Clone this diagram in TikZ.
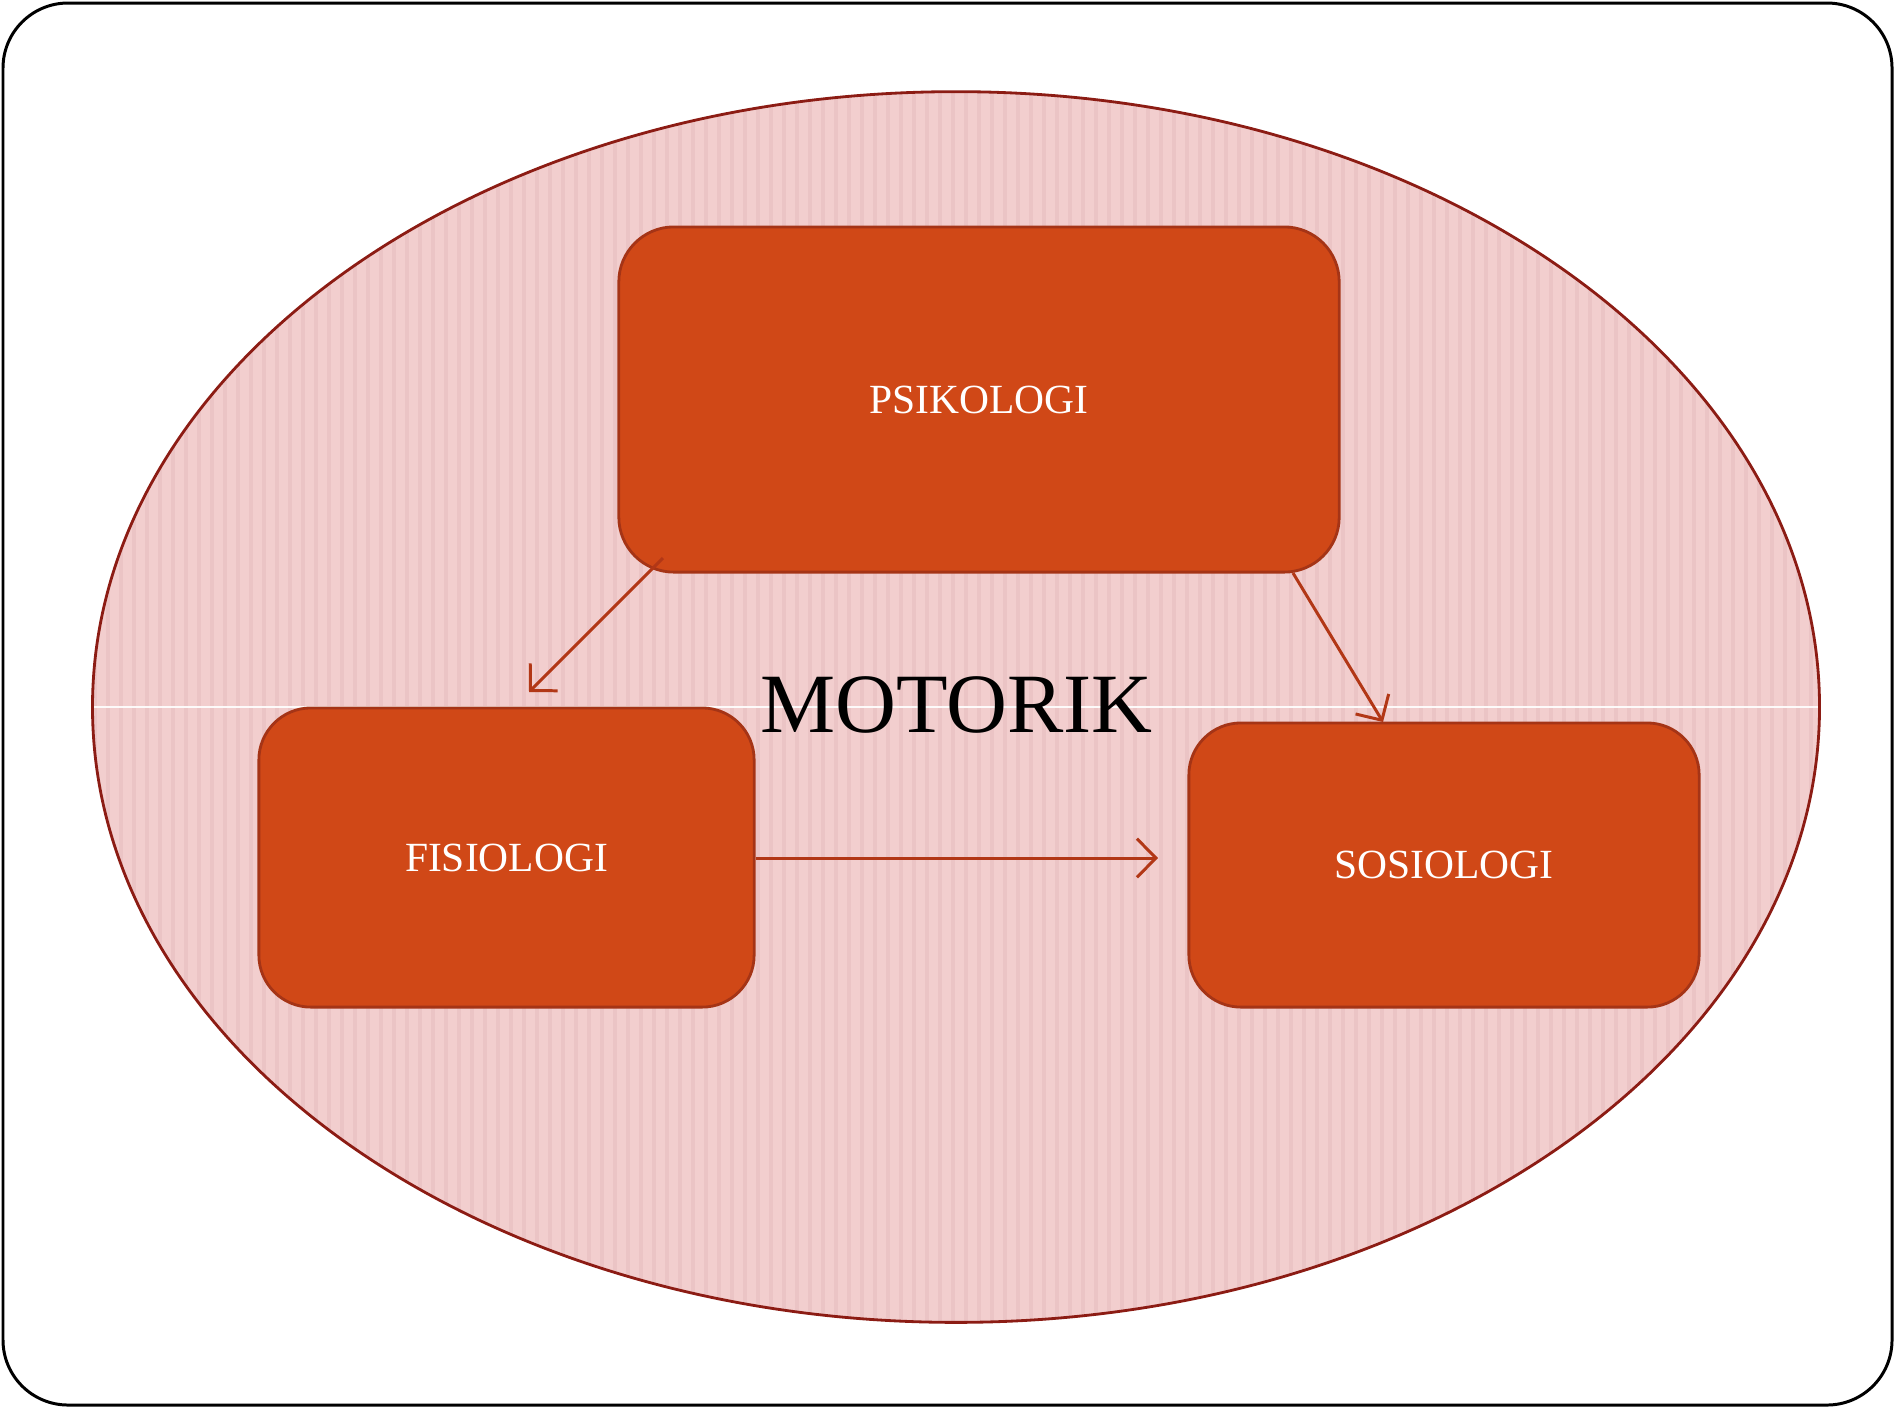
\documentclass[tikz,border=0pt]{standalone}
\usepackage{fontspec}
\setmainfont{Liberation Serif}
\usetikzlibrary{arrows.meta}
\definecolor{boxfill}{RGB}{208,72,23}
\definecolor{boxline}{RGB}{165,52,22}
\definecolor{ellfill}{RGB}{242,206,206}
\definecolor{ellline}{RGB}{140,28,20}
\definecolor{stripe}{RGB}{222,176,178}
\definecolor{arrowc}{RGB}{178,55,22}
\tikzset{
  topic/.style={draw=boxline, line width=0.8pt, fill=boxfill, rounded corners=0.52cm,
    text=white, font=\fontsize{11.8}{14}\selectfont, inner sep=0pt},
  link/.style={draw=arrowc, line width=0.85pt, -{Straight Barb[length=5.4pt,width=11pt]}},
}
\begin{document}
\begin{tikzpicture}[x=0.01cm,y=-0.01cm]
\useasboundingbox (0,0) rectangle (1895,1408);
% outer frame
\draw[line width=0.85pt, rounded corners=0.65cm] (3,3) rectangle (1892,1405);
% ellipse
\fill[ellfill] (956,707) ellipse [x radius=8.63cm, y radius=6.15cm];
\begin{scope}
  \clip (956,707) ellipse [x radius=8.63cm, y radius=6.15cm];
  \foreach \i in {0,...,133} {
    \draw[stripe, line width=1.3pt, opacity=0.3] ({95+13*\i},80) -- ({95+13*\i},1330);
  }
  \draw[white, line width=0.45pt, opacity=0.9] (90,707) -- (1825,707);
\end{scope}
\draw[ellline, line width=0.8pt] (956,707) ellipse [x radius=8.63cm, y radius=6.15cm];
% boxes
\node[topic, minimum width=7.2cm, minimum height=3.45cm, rounded corners=0.55cm] (psi) at (979,399.5) {PSIKOLOGI};
\node[topic, minimum width=4.95cm, minimum height=2.99cm] (fis) at (506.5,857.5) {FISIOLOGI};
\node[topic, minimum width=5.10cm, minimum height=2.84cm] (sos) at (1444,865) {SOSIOLOGI};
% title
\node[font=\fontsize{24}{28}\selectfont, inner sep=0pt] (mot) at (956.5,705) {MOTORIK};
% connectors
\coordinate (a1s) at (663,558);
\coordinate (a1e) at (529,692);
\coordinate (a2s) at (1293,573);
\coordinate (a2e) at (1383,722);
\coordinate (a3e) at (1158,858);
\draw[link] (a1s) -- (a1e);
\draw[link] (a2s) -- (a2e);
\draw[link] (fis.east |- 0,858) -- (a3e);
\end{tikzpicture}
\end{document}
